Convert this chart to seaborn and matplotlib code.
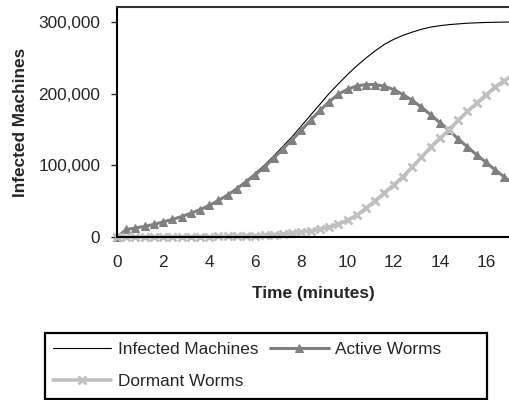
import matplotlib

matplotlib.use("Agg")
import matplotlib.pyplot as plt
import numpy as np
import pandas as pd
import seaborn as sns
from matplotlib.patches import Rectangle
from matplotlib.ticker import StrMethodFormatter

# time axis in minutes (one sample every 0.4 min, last one just past the edge)
minutes = [
    0.0, 0.4, 0.8, 1.2, 1.6, 2.0, 2.4, 2.8, 3.2, 3.6, 4.0, 4.4, 4.8, 5.2, 5.6,
    6.0, 6.4, 6.8, 7.2, 7.6, 8.0, 8.4, 8.8, 9.2, 9.6, 10.0, 10.4, 10.8, 11.2,
    11.6, 12.0, 12.4, 12.8, 13.2, 13.6, 14.0, 14.4, 14.8, 15.2, 15.6, 16.0,
    16.4, 16.8, 17.2,
]
infected_machines = [
    0, 10500, 12500, 15000, 17600, 21100, 24700, 28700, 33300, 38400, 44500,
    51600, 59200, 68400, 78100, 89000, 100100, 113000, 126500, 140000, 155000,
    170000, 185000, 200000, 213500, 226500, 238500, 249500, 259500, 268500,
    275500, 281000, 285500, 289500, 292500, 294500, 296000, 297000, 298000,
    298500, 299000, 299300, 299500, 299700,
]
active_worms = [
    0, 10500, 12500, 15000, 17500, 21000, 24500, 28500, 33000, 38000, 44000,
    51000, 58500, 67500, 77000, 87000, 97500, 110000, 123000, 135500, 149000,
    163000, 176500, 188500, 199000, 206000, 210500, 212500, 212500, 210000,
    205500, 198500, 190500, 181000, 170500, 159500, 149000, 136500, 125500,
    114500, 104000, 93500, 83500, 74000,
]
dormant_worms = [
    0, 0, 0, 100, 100, 200, 200, 300, 400, 500, 600, 700, 900, 1100, 1400,
    1900, 2500, 3200, 4100, 5200, 6700, 8500, 10800, 13800, 17800, 23300,
    30500, 40000, 50500, 61500, 72500, 84000, 97500, 111000, 125000, 137500,
    149000, 163000, 175000, 186500, 198000, 209000, 218000, 226000,
]

df = pd.DataFrame(
    {
        "minutes": minutes,
        "Infected Machines": infected_machines,
        "Active Worms": active_worms,
        "Dormant Worms": dormant_worms,
    }
)

sns.set_style("white")
plt.rcParams["font.family"] = ["Liberation Sans", "DejaVu Sans"]
FS = 12.4

fig = plt.figure(figsize=(5.09, 4.0), dpi=100)
ax = fig.add_axes([0.2299, 0.4075, 0.7701, 0.574])

sns.lineplot(
    data=df, x="minutes", y="Infected Machines", ax=ax, color="black",
    linewidth=0.8, label="Infected Machines", clip_on=False,
)
sns.lineplot(
    data=df, x="minutes", y="Active Worms", ax=ax, color="#808080",
    linewidth=2.2, marker="^", markersize=6, markeredgecolor="#808080",
    label="Active Worms", clip_on=False,
)
sns.lineplot(
    data=df, x="minutes", y="Dormant Worms", ax=ax, color="#c0c0c0",
    linewidth=2.6, marker="x", markersize=6, markeredgewidth=2,
    markeredgecolor="#c0c0c0", label="Dormant Worms", clip_on=False,
)

ax.set_xlim(0, 17)
ax.set_ylim(0, 320000)
ax.set_xticks(np.arange(0, 17, 2))
ax.set_yticks(np.arange(0, 300001, 100000))
ax.yaxis.set_major_formatter(StrMethodFormatter("{x:,.0f}"))
ax.tick_params(axis="x", length=0, pad=13, labelsize=FS)
ax.tick_params(axis="y", length=4, width=1, direction="out", pad=8,
               labelsize=FS, left=True)

for side in ("left", "bottom", "top"):
    ax.spines[side].set_color("black")
    ax.spines[side].set_linewidth(1.5)
ax.spines["right"].set_visible(False)
ax.spines["top"].set_color("#333333")

ax.set_xlabel("Time (minutes)", fontsize=FS, fontweight="bold")
ax.set_ylabel("Infected Machines", fontsize=FS, fontweight="bold")
ax.xaxis.set_label_coords(0.5, -0.215)
ax.yaxis.set_label_coords(-0.227, 0.5)

# legend: row-major order like the original (two columns)
handles, labels = ax.get_legend_handles_labels()
order = [0, 2, 1]
ax.legend(
    [handles[i] for i in order], [labels[i] for i in order],
    ncol=2, frameon=False, fontsize=FS,
    loc="upper left", bbox_to_anchor=(0.104, 0.145),
    bbox_transform=fig.transFigure, borderaxespad=0, borderpad=0,
    handlelength=3.4, handletextpad=0.35, columnspacing=0.7,
    labelspacing=1.0,
)
fig.patches.append(
    Rectangle(
        (0.0884, 0.0037), 0.868, 0.1638, transform=fig.transFigure,
        fill=False, edgecolor="black", linewidth=1.6,
    )
)

fig.savefig("out.png", dpi=100)
